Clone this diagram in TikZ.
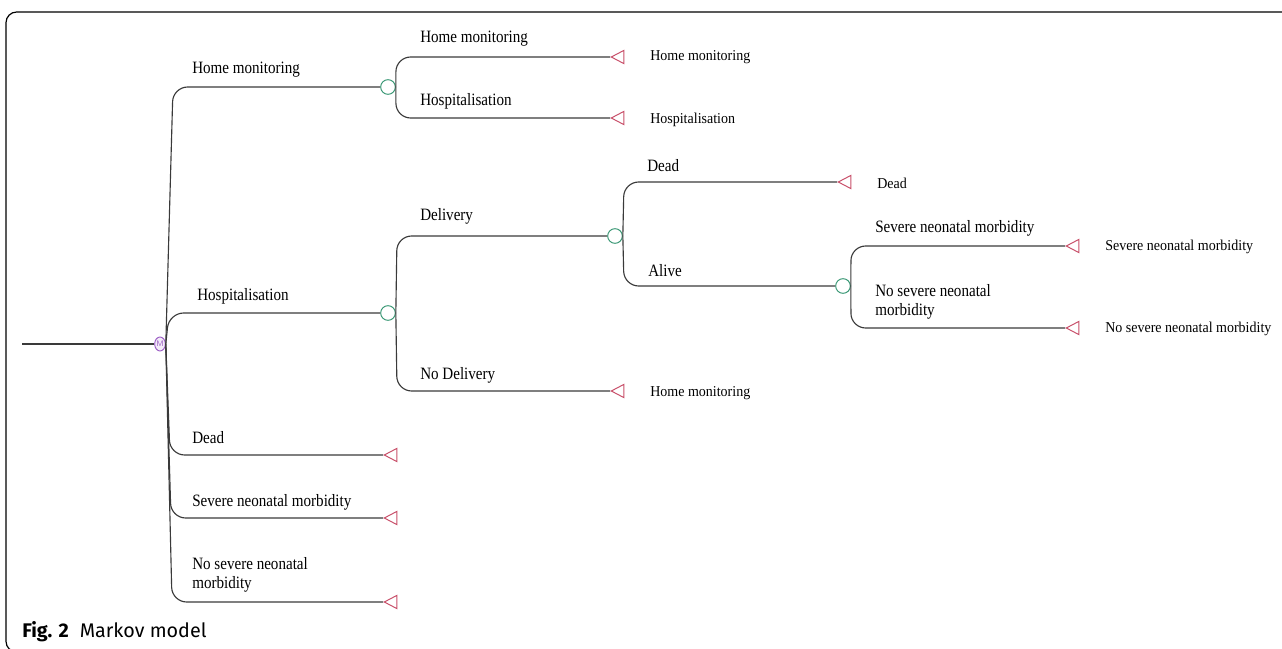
\documentclass[tikz,border=0pt]{standalone}
\usepackage{fontspec}
\usetikzlibrary{shapes.geometric}
\newfontfamily\treefont[FakeStretch=0.87]{Liberation Serif}
\newfontfamily\endfont[FakeStretch=0.93]{Liberation Serif}
\newfontfamily\capfont{Fira Sans}
\definecolor{linegray}{HTML}{3A3A3A}
\definecolor{termred}{HTML}{C8506A}
\definecolor{chancegreen}{HTML}{3E9A78}
\definecolor{markovpurple}{HTML}{9B5CC4}
\begin{document}
\begin{tikzpicture}[x=0.75pt,y=-0.75pt,
  branch/.style={draw=linegray, line width=0.85pt, rounded corners=11pt},
  chance/.style={circle, draw=chancegreen, line width=0.75pt, fill=white, minimum size=11pt, inner sep=0pt},
  markov/.style={ellipse, draw=markovpurple, fill=markovpurple!12, line width=0.7pt, minimum width=8pt, minimum height=10.5pt, inner sep=0pt, text=markovpurple, font=\sffamily\fontsize{6}{6}\selectfont},
  term/.style={isosceles triangle, shape border rotate=180, isosceles triangle stretches, draw=termred, line width=0.75pt, minimum width=10pt, minimum height=9.5pt, inner sep=0pt},
  lab/.style={anchor=west, inner sep=0pt, font=\treefont\fontsize{13}{14.5}\selectfont, align=left},
  endlab/.style={anchor=west, inner sep=0pt, font=\endfont\fontsize{11.3}{13}\selectfont}
]
\useasboundingbox (0,0) rectangle (1282,649);
% frame
\draw[black, line width=0.9pt, rounded corners=8pt] (1300,12) -- (6,12) -- (6,652) -- (1300,652);

% nodes
\coordinate (root) at (22,344);
\node[markov] (m) at (160,344) {M};
\node[chance] (c1) at (388,87) {};
\node[chance] (c2) at (388,313) {};
\node[chance] (c3) at (615,236) {};
\node[chance] (c4) at (843,286) {};
\node[term, anchor=apex] (t1) at (610,57) {};
\node[term, anchor=apex] (t2) at (610,118) {};
\node[term, anchor=apex] (t3) at (610,391) {};
\node[term, anchor=apex] (t4) at (837,182) {};
\node[term, anchor=apex] (t5) at (1065,246) {};
\node[term, anchor=apex] (t6) at (1065,328) {};
\node[term, anchor=apex] (t7) at (383,455) {};
\node[term, anchor=apex] (t8) at (383,518) {};
\node[term, anchor=apex] (t9) at (383,602) {};

% connectors
\draw[branch] (root) -- (m.west);
\draw[branch] (m.east) -- (173,87) -- (c1.west);
\draw[branch] (m.east) -- (169,313) -- (c2.west);
\draw[branch] (m.east) -- (170,455) -- (t7.apex);
\draw[branch] (m.east) -- (171,518) -- (t8.apex);
\draw[branch] (m.east) -- (172,602) -- (t9.apex);

\draw[branch] (c1.east) -- (396,57) -- (t1.apex);
\draw[branch] (c1.east) -- (396,118) -- (t2.apex);

\draw[branch] (c2.east) -- (397,236) -- (c3.west);
\draw[branch] (c2.east) -- (397,391) -- (t3.apex);

\draw[branch] (c3.east) -- (624,182) -- (t4.apex);
\draw[branch] (c3.east) -- (624,286) -- (c4.west);

\draw[branch] (c4.east) -- (851,246) -- (t5.apex);
\draw[branch] (c4.east) -- (851,328) -- (t6.apex);

% branch labels
\node[lab] (l1) at (192,70) {Home monitoring};
\node[lab] (l2) at (197,296) {Hospitalisation};
\node[lab] (l3) at (192,438) {Dead};
\node[lab] (l4) at (192,502) {Severe neonatal morbidity};
\node[lab] (l5) at (192,575) {No severe neonatal\\morbidity};
\node[lab] (l6) at (420,39) {Home monitoring};
\node[lab] (l7) at (420,101) {Hospitalisation};
\node[lab] (l8) at (420,216) {Delivery};
\node[lab] (l9) at (420,375) {No Delivery};
\node[lab] (l10) at (647,166) {Dead};
\node[lab] (l11) at (648,271) {Alive};
\node[lab] (l12) at (875,228) {Severe neonatal morbidity};
\node[lab] (l13) at (875,302) {No severe neonatal\\morbidity};

% terminal labels
\node[endlab] (e1) at (650,57) {Home monitoring};
\node[endlab] (e2) at (650,120) {Hospitalisation};
\node[endlab] (e3) at (650,393) {Home monitoring};
\node[endlab] (e4) at (877,183) {Dead};
\node[endlab] (e5) at (1105,247) {Severe neonatal morbidity};
\node[endlab] (e6) at (1105,329) {No severe neonatal morbidity};

% caption
\node[anchor=base west, inner sep=0pt, font=\capfont\fontsize{14.8}{16}\selectfont] (cap) at (22,637) {\textbf{Fig. 2}\hspace{0.55em}Markov model};
\end{tikzpicture}
\end{document}
